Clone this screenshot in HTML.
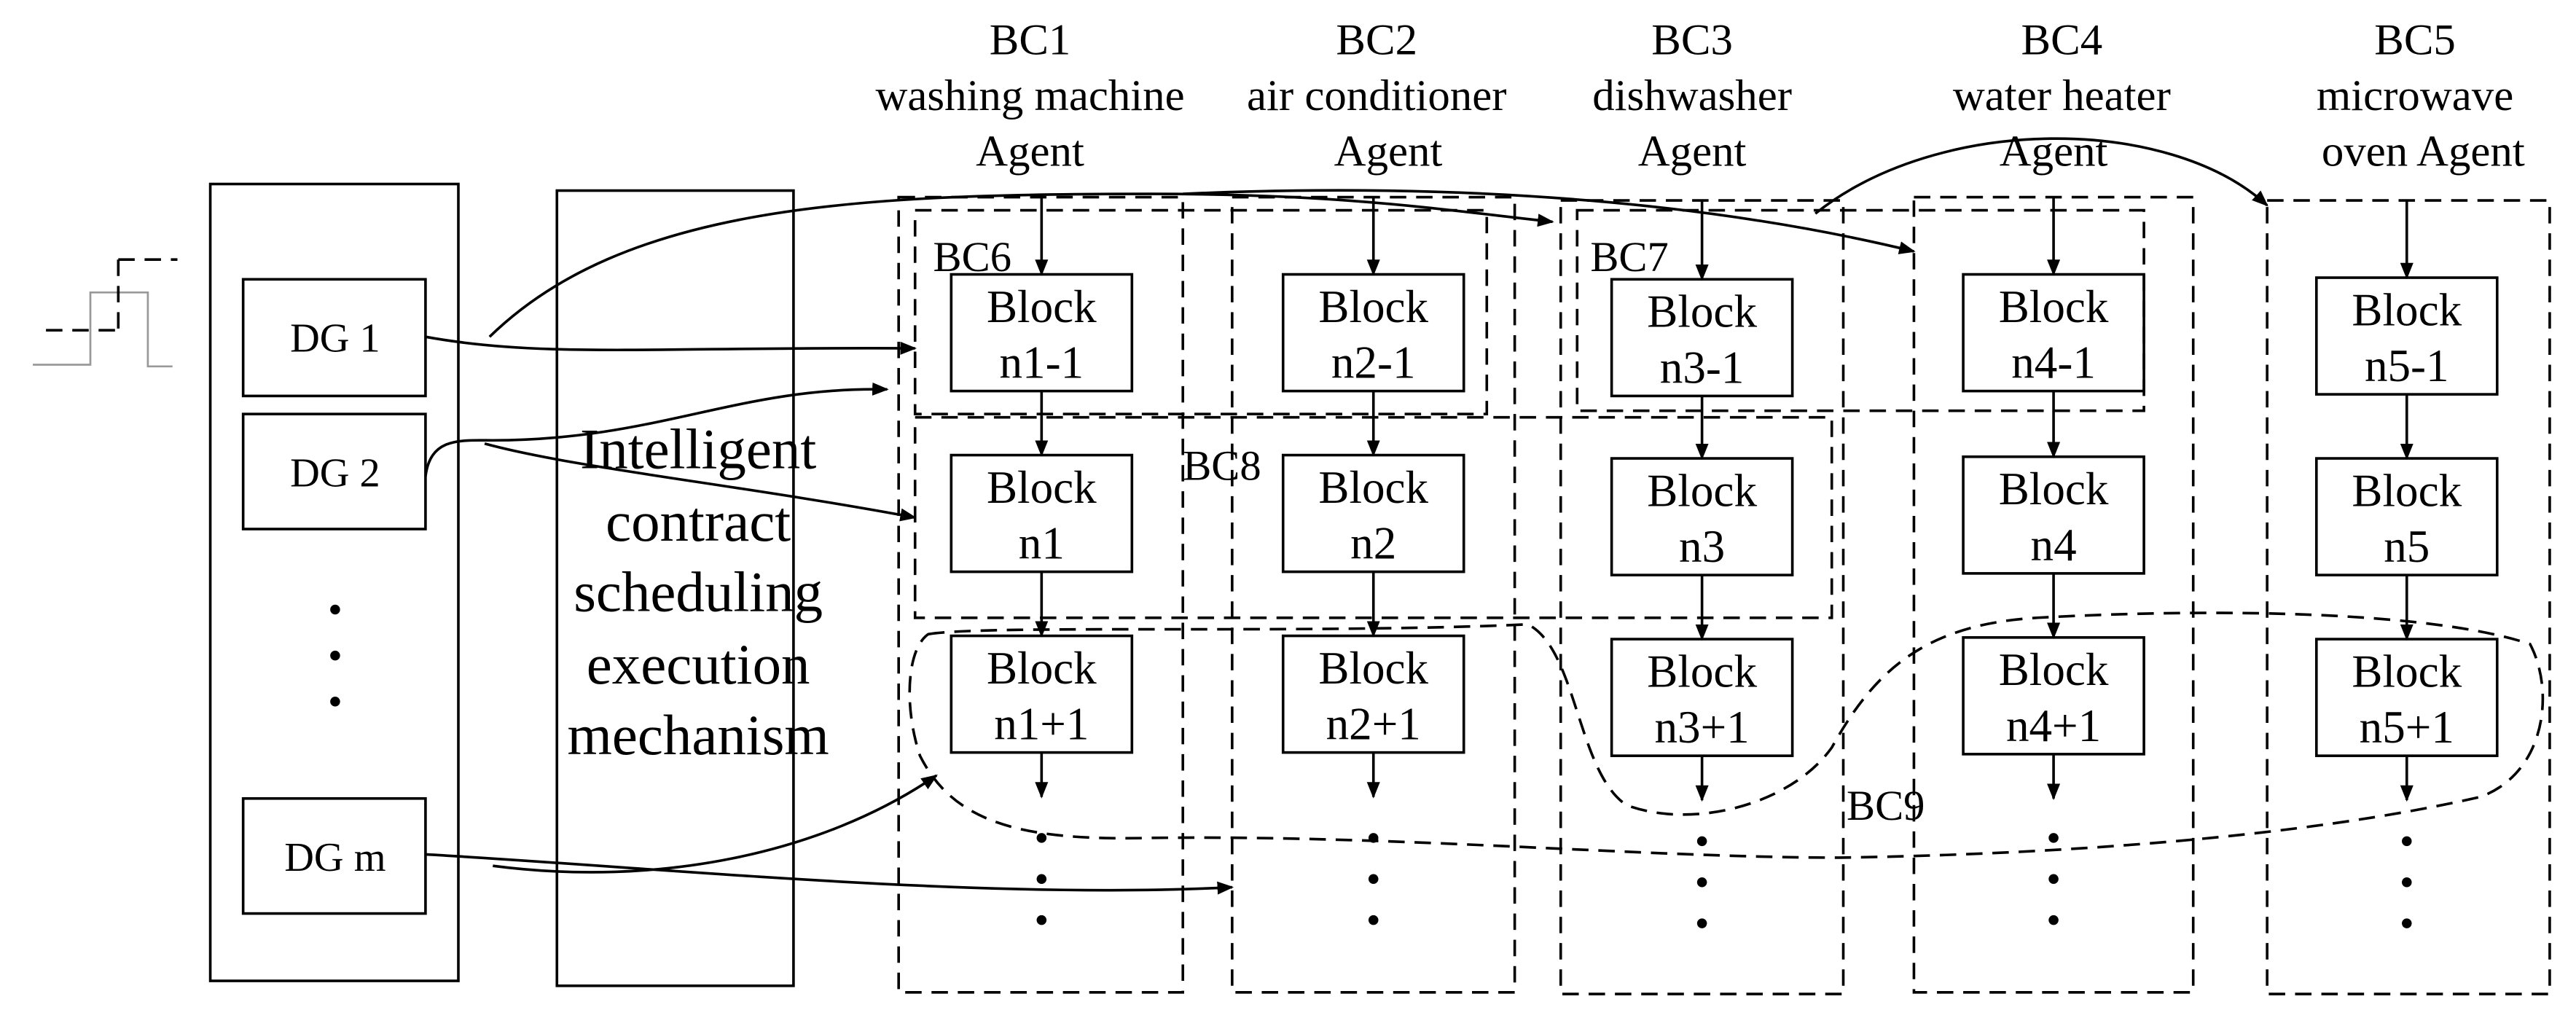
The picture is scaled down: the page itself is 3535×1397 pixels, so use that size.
<!DOCTYPE html>
<html><head><meta charset="utf-8"><style>
html,body{margin:0;padding:0;background:#fff;}
svg{display:block;}
text{font-family:"Liberation Serif",serif;fill:#000;}
</style></head><body>
<svg width="3535" height="1397" viewBox="0 0 1568 619.6" preserveAspectRatio="none" xmlns="http://www.w3.org/2000/svg">
<defs>
<marker id="a" markerWidth="10" markerHeight="8" refX="9" refY="4" orient="auto" markerUnits="userSpaceOnUse">
<path d="M0,0 L10,4 L0,8 Z" fill="#000"/></marker>
</defs>
<g fill="none" stroke="#000" stroke-width="1.6">
<polyline points="20,222 55,222 55,178 90,178 90,223 105,223" stroke="#999" stroke-width="1.2"/>
<line x1="28" y1="201" x2="75" y2="201" stroke-dasharray="10,6"/>
<line x1="72" y1="158" x2="72" y2="200" stroke-dasharray="10,6"/>
<line x1="72" y1="158" x2="108" y2="158" stroke-dasharray="10,6"/>
<rect x="128" y="112" width="151" height="485"/>
<rect x="148" y="170" width="111" height="71"/>
<rect x="148" y="252" width="111" height="70"/>
<rect x="148" y="486" width="111" height="70"/>
<rect x="339" y="116" width="144" height="484"/>
<g stroke-dasharray="10,6">
<rect x="547" y="120" width="173" height="484"/>
<rect x="750" y="120" width="172" height="484"/>
<rect x="950" y="122" width="172" height="483"/>
<rect x="1165" y="120" width="170" height="484"/>
<rect x="1380" y="122" width="172" height="483"/>
<rect x="557" y="128" width="348" height="124"/>
<rect x="960" y="128" width="345" height="122"/>
<rect x="557" y="254" width="558" height="122"/>
<path d="M565,386 C600,380 800,386 930,380 C960,395 960,470 990,490 C1030,505 1090,490 1115,455 C1140,410 1170,380 1240,376 C1350,370 1480,372 1540,392 C1555,420 1550,470 1510,485 C1400,510 1250,520 1120,522 C1000,522 850,508 700,510 C620,512 580,500 560,460 C550,430 552,395 565,386 Z"/>
</g>
<rect x="579" y="167" width="110" height="71"/><rect x="781" y="167" width="110" height="71"/><rect x="981" y="170" width="110" height="71"/><rect x="1195" y="167" width="110" height="71"/><rect x="1410" y="169" width="110" height="71"/>
<rect x="579" y="277" width="110" height="71"/><rect x="781" y="277" width="110" height="71"/><rect x="981" y="279" width="110" height="71"/><rect x="1195" y="278" width="110" height="71"/><rect x="1410" y="279" width="110" height="71"/>
<rect x="579" y="387" width="110" height="71"/><rect x="781" y="387" width="110" height="71"/><rect x="981" y="389" width="110" height="71"/><rect x="1195" y="388" width="110" height="71"/><rect x="1410" y="389" width="110" height="71"/>
<g marker-end="url(#a)">
<line x1="634" y1="120" x2="634" y2="167"/><line x1="634" y1="238" x2="634" y2="277"/><line x1="634" y1="348" x2="634" y2="387"/><line x1="634" y1="458" x2="634" y2="485"/>
<line x1="836" y1="120" x2="836" y2="167"/><line x1="836" y1="238" x2="836" y2="277"/><line x1="836" y1="348" x2="836" y2="387"/><line x1="836" y1="458" x2="836" y2="485"/>
<line x1="1036" y1="122" x2="1036" y2="170"/><line x1="1036" y1="241" x2="1036" y2="279"/><line x1="1036" y1="350" x2="1036" y2="389"/><line x1="1036" y1="460" x2="1036" y2="487"/>
<line x1="1250" y1="120" x2="1250" y2="167"/><line x1="1250" y1="238" x2="1250" y2="278"/><line x1="1250" y1="349" x2="1250" y2="388"/><line x1="1250" y1="459" x2="1250" y2="486"/>
<line x1="1465" y1="122" x2="1465" y2="169"/><line x1="1465" y1="240" x2="1465" y2="279"/><line x1="1465" y1="350" x2="1465" y2="389"/><line x1="1465" y1="460" x2="1465" y2="487"/>
<path d="M298,205 C380,125 520,118 700,118 C820,118 880,128 945,135"/>
<path d="M720,118 C900,110 1050,125 1165,153"/>
<path d="M1105,130 C1180,70 1320,70 1380,125"/>
<path d="M259,205 C330,218 400,211 557,212"/>
<path d="M259,290 C262,266 280,268 300,268 C400,268 450,235 540,237"/>
<path d="M295,270 C350,285 450,295 557,315"/>
<path d="M300,527 C400,540 500,520 570,472"/>
<path d="M259,520 C400,528 600,548 750,540"/>
</g>
</g>
<g fill="#000">
<circle cx="204" cy="371" r="3"/><circle cx="204" cy="399" r="3"/><circle cx="204" cy="427" r="3"/>
<circle cx="634" cy="510" r="3"/><circle cx="634" cy="535" r="3"/><circle cx="634" cy="560" r="3"/>
<circle cx="836" cy="510" r="3"/><circle cx="836" cy="535" r="3"/><circle cx="836" cy="560" r="3"/>
<circle cx="1036" cy="512" r="3"/><circle cx="1036" cy="537" r="3"/><circle cx="1036" cy="562" r="3"/>
<circle cx="1250" cy="510" r="3"/><circle cx="1250" cy="535" r="3"/><circle cx="1250" cy="560" r="3"/>
<circle cx="1465" cy="512" r="3"/><circle cx="1465" cy="537" r="3"/><circle cx="1465" cy="562" r="3"/>
</g>
<g font-size="25" text-anchor="middle">
<text x="204" y="214">DG 1</text><text x="204" y="296">DG 2</text><text x="204" y="530">DG m</text>
</g>
<g font-size="35" text-anchor="middle">
<text x="425" y="285">Intelligent</text><text x="425" y="329">contract</text><text x="425" y="372">scheduling</text><text x="425" y="416">execution</text><text x="425" y="459">mechanism</text>
</g>
<g font-size="27" text-anchor="middle">
<text x="627" y="33">BC1</text><text x="627" y="67">washing machine</text><text x="627" y="101">Agent</text>
<text x="838" y="33">BC2</text><text x="838" y="67">air conditioner</text><text x="845" y="101">Agent</text>
<text x="1030" y="33">BC3</text><text x="1030" y="67">dishwasher</text><text x="1030" y="101">Agent</text>
<text x="1255" y="33">BC4</text><text x="1255" y="67">water heater</text><text x="1250" y="101">Agent</text>
<text x="1470" y="33">BC5</text><text x="1470" y="67">microwave</text><text x="1475" y="101">oven Agent</text>
</g>
<g font-size="26">
<text x="568" y="165">BC6</text><text x="968" y="165">BC7</text><text x="720" y="292">BC8</text><text x="1124" y="499">BC9</text>
</g>
<g font-size="28" text-anchor="middle">
<text x="634" y="196">Block</text><text x="634" y="230">n1-1</text>
<text x="836" y="196">Block</text><text x="836" y="230">n2-1</text>
<text x="1036" y="199">Block</text><text x="1036" y="233">n3-1</text>
<text x="1250" y="196">Block</text><text x="1250" y="230">n4-1</text>
<text x="1465" y="198">Block</text><text x="1465" y="232">n5-1</text>
<text x="634" y="306">Block</text><text x="634" y="340">n1</text>
<text x="836" y="306">Block</text><text x="836" y="340">n2</text>
<text x="1036" y="308">Block</text><text x="1036" y="342">n3</text>
<text x="1250" y="307">Block</text><text x="1250" y="341">n4</text>
<text x="1465" y="308">Block</text><text x="1465" y="342">n5</text>
<text x="634" y="416">Block</text><text x="634" y="450">n1+1</text>
<text x="836" y="416">Block</text><text x="836" y="450">n2+1</text>
<text x="1036" y="418">Block</text><text x="1036" y="452">n3+1</text>
<text x="1250" y="417">Block</text><text x="1250" y="451">n4+1</text>
<text x="1465" y="418">Block</text><text x="1465" y="452">n5+1</text>
</g>
</svg>
</body></html>
